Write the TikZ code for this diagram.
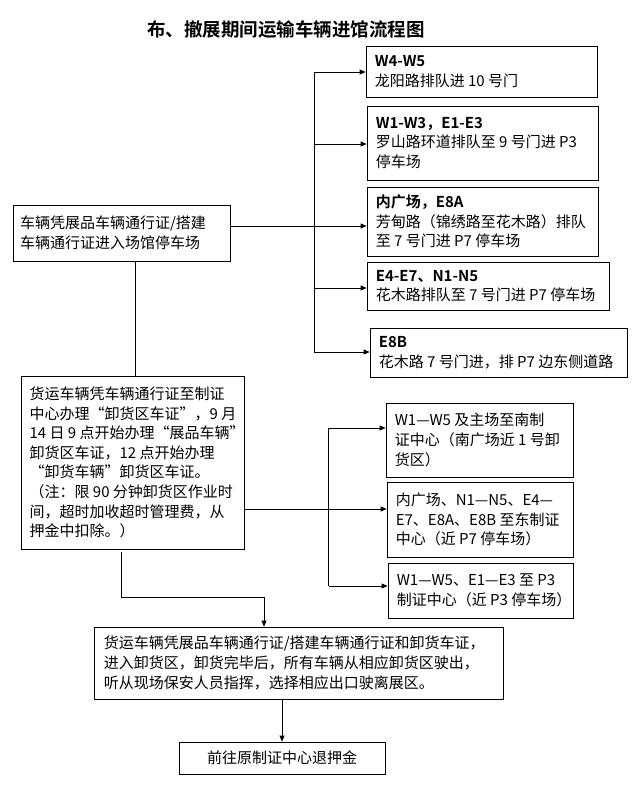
\documentclass[tikz,border=0pt]{standalone}
\usepackage{fontspec}
\setmainfont{Noto Sans CJK SC}[BoldFont={Noto Sans CJK SC Bold}]
\usetikzlibrary{arrows.meta}
\begin{document}
\begin{tikzpicture}[x=1pt,y=-1pt,
  box/.style={draw, line width=0.8pt, inner sep=0pt},
  txt/.style={anchor=west, align=left, inner sep=0pt, font=\fontsize{15pt}{19.6pt}\selectfont},
  conn/.style={line width=0.8pt},
  arr/.style={conn, -{Triangle[length=6pt,width=5pt]}}]
\useasboundingbox (0,0) rectangle (640,787);
\fill[white] (0,0) rectangle (640,787);

% title
\node[inner sep=0pt, font=\fontsize{18.5pt}{22pt}\selectfont\bfseries] (title) at (286,29) {布、撤展期间运输车辆进馆流程图};

% right column top
\node[box, minimum width=231pt, minimum height=51pt] (w45) at (481.5,71.5) {};
\node[txt] (w45t) at ([xshift=9pt]w45.west) {\textbf{W4-W5}\\龙阳路排队进 10 号门};

\node[box, minimum width=231pt, minimum height=74pt] (w13) at (482.5,143) {};
\node[txt] (w13t) at ([xshift=9pt]w13.west) {\textbf{W1-W3，E1-E3}\\罗山路环道排队至 9 号门进 P3\\停车场};

\node[box, minimum width=231pt, minimum height=69pt] (nei) at (482.5,221.5) {};
\node[txt] (neit) at ([xshift=9pt]nei.west) {\textbf{内广场，E8A}\\芳甸路（锦绣路至花木路）排队\\至 7 号门进 P7 停车场};

\node[box, minimum width=242pt, minimum height=48pt] (e47) at (488,286) {};
\node[txt] (e47t) at ([xshift=9pt]e47.west) {\textbf{E4-E7、N1-N5}\\花木路排队至 7 号门进 P7 停车场};

\node[box, minimum width=257pt, minimum height=49pt] (e8b) at (498.5,352.5) {};
\node[txt] (e8bt) at ([xshift=9pt]e8b.west) {\textbf{E8B}\\花木路 7 号门进，排 P7 边东侧道路};

% left column
\node[box, minimum width=217.5pt, minimum height=56pt] (b1) at (122,233) {};
\node[txt] (b1t) at ([xshift=7pt]b1.west) {车辆凭展品车辆通行证/搭建\\车辆通行证进入场馆停车场};

\node[box, minimum width=222.4pt, minimum height=173pt] (b2) at (133,462.5) {};
\node[txt] (b2t) at ([xshift=8pt]b2.west) {货运车辆凭车辆通行证至制证\\中心办理“卸货区车证”，9 月\\14 日 9 点开始办理“展品车辆”\\卸货区车证，12 点开始办理\\“卸货车辆”卸货区车证。\\（注：限 90 分钟卸货区作业时\\间，超时加收超时管理费，从\\押金中扣除。）};

% right column bottom
\node[box, minimum width=187pt, minimum height=74pt] (r1) at (479.5,440) {};
\node[txt] (r1t) at ([xshift=9pt]r1.west) {W1—W5 及主场至南制\\证中心（南广场近 1 号卸\\货区）};

\node[box, minimum width=186pt, minimum height=75pt] (r2) at (480,519.5) {};
\node[txt] (r2t) at ([xshift=9pt]r2.west) {内广场、N1—N5、E4—\\E7、E8A、E8B 至东制证\\中心（近 P7 停车场）};

\node[box, minimum width=185pt, minimum height=55pt] (r3) at (480.5,590.5) {};
\node[txt] (r3t) at ([xshift=9pt]r3.west) {W1—W5、E1—E3 至 P3\\制证中心（近 P3 停车场）};

% bottom
\node[box, minimum width=409pt, minimum height=72pt] (b3) at (298.5,663) {};
\node[txt] (b3t) at ([xshift=10pt]b3.west) {货运车辆凭展品车辆通行证/搭建车辆通行证和卸货车证，\\进入卸货区，卸货完毕后，所有车辆从相应卸货区驶出，\\听从现场保安人员指挥，选择相应出口驶离展区。};

\node[box, minimum width=206pt, minimum height=32pt] (b4) at (282,758) {};
\node[txt, anchor=center] (b4t) at (b4.center) {前往原制证中心退押金};

% connectors, upper group
\coordinate (t1) at (314,72);
\coordinate (t2) at (314,144);
\coordinate (t3) at (314,226);
\coordinate (t4) at (314,288);
\coordinate (t5) at (314,352);
\draw[conn] (t1) -- (t5);
\draw[arr] (t1) -- (w45.west |- t1);
\draw[arr] (t2) -- (w13.west |- t2);
\draw[arr] (b1.east |- t3) -- (nei.west |- t3);
\draw[arr] (t4) -- (e47.west |- t4);
\draw[arr] (t5) -- (e8b.west |- t5);

\coordinate (v1) at (135,0);
\draw[conn] (b1.south -| v1) -- (b2.north -| v1);

% connectors, lower group
\coordinate (s1) at (328.6,428);
\coordinate (s2) at (328.6,509);
\coordinate (s3) at (328.6,586);
\draw[conn] (s1) -- (s3);
\draw[arr] (s1) -- (r1.west |- s1);
\draw[arr] (b2.east |- s2) -- (r2.west |- s2);
\draw[arr] (s3) -- (r3.west |- s3);

\coordinate (d1) at (121,552);
\coordinate (d2) at (121,597);
\coordinate (d3) at (264,597);
\draw[arr] (d1) -- (d2) -- (d3) -- (b3.north -| d3);

\coordinate (e1) at (282,0);
\draw[arr] (b3.south -| e1) -- (b4.north -| e1);
\end{tikzpicture}
\end{document}
